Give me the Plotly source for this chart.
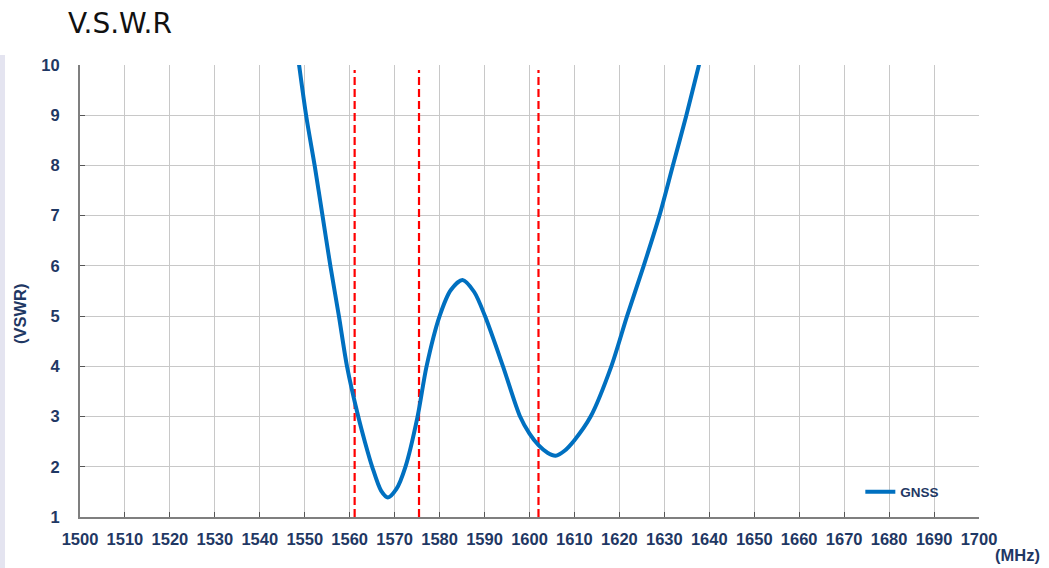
import plotly.graph_objects as go

# GNSS VSWR curve
freq_mhz = [1548.0, 1550.3, 1552.2, 1553.95, 1555.7, 1557.6, 1559.4, 1561.9, 1563.4,
            1565.0, 1567.0, 1568.5, 1570.4, 1572.4, 1575.1, 1577.1, 1580.0, 1582.5, 1585.1,
            1587.7, 1590.1, 1594.1, 1597.9, 1600.0, 1602.0, 1604.0, 1605.8, 1607.8, 1610.0,
            1613.6, 1618.2, 1621.7, 1625.4, 1628.9, 1631.9, 1634.9, 1637.7, 1638.6]
vswr = [10.5, 9.0, 8.0, 7.0, 6.0, 5.0, 4.0, 3.0, 2.49,
        2.0, 1.52, 1.39, 1.56, 2.0, 3.0, 4.0, 5.0, 5.52, 5.72,
        5.48, 5.0, 4.0, 3.0, 2.66, 2.43, 2.28, 2.22, 2.32, 2.53,
        3.0, 4.0, 5.0, 6.0, 7.0, 8.0, 9.0, 10.0, 10.3]

# Marker frequencies (dashed red lines)
marker_freqs = [1561.098, 1575.42, 1602.0]
marker_span = [1.0, 9.9]

x_ticks = list(range(1500, 1701, 10))
y_ticks = list(range(1, 11))

label_color = "#1F3864"
tick_font = dict(family="Liberation Sans", size=16.5, color=label_color, weight="bold")

fig = go.Figure()

for f in marker_freqs:
    fig.add_trace(go.Scatter(
        x=[f, f], y=marker_span, mode="lines",
        line=dict(color="#FF0000", width=2.2, dash="8px,4px"),
        showlegend=False, hoverinfo="skip"))

fig.add_trace(go.Scatter(
    x=freq_mhz, y=vswr, mode="lines", name="GNSS",
    line=dict(color="#0070C0", width=4, shape="spline", smoothing=0.8)))

fig.update_layout(
    width=1049, height=568,
    paper_bgcolor="white", plot_bgcolor="white",
    margin=dict(l=80, r=70, t=65, b=51),
    title=dict(text="V.S.W.R", x=68/1049, xref="container", xanchor="left",
               y=1-23/568, yref="container", yanchor="middle",
               font=dict(family="DejaVu Sans", size=28, color="#111111")),
    legend=dict(x=0.868, y=0.0553, xanchor="left", yanchor="middle",
                bgcolor="rgba(0,0,0,0)",
                font=dict(family="Liberation Sans", size=13.5, color=label_color, weight="bold")),
    xaxis=dict(range=[1500, 1700], tickvals=x_ticks, ticktext=[str(v) for v in x_ticks],
               showgrid=True, gridcolor="#C8C8C8", gridwidth=1,
               showline=True, linecolor="#7F7F7F", linewidth=2, mirror=False,
               ticks="inside", ticklen=5, tickcolor="#555555", tickwidth=1,
               ticklabelstandoff=6,
               tickfont=tick_font, zeroline=False, fixedrange=True),
    yaxis=dict(range=[1, 10], tickvals=y_ticks, ticktext=[str(v) for v in y_ticks],
               showgrid=True, gridcolor="#C8C8C8", gridwidth=1,
               showline=True, linecolor="#7F7F7F", linewidth=2,
               ticks="inside", ticklen=5, tickcolor="#555555", tickwidth=1,
               ticklabelstandoff=15,
               tickfont=tick_font, zeroline=False, fixedrange=True),
    annotations=[
        dict(text="(MHz)", xref="paper", yref="paper", x=1.070, y=-0.084,
             xanchor="right", yanchor="middle", showarrow=False,
             font=dict(family="Liberation Sans", size=16.5, color=label_color, weight="bold")),
        dict(text="(VSWR)", xref="paper", yref="paper", x=-60/899, y=0.449,
             xanchor="center", yanchor="middle", showarrow=False, textangle=-90,
             font=dict(family="Liberation Sans", size=16.5, color=label_color, weight="bold")),
    ],
    shapes=[dict(type="rect", xref="paper", yref="paper", x0=-80/899, x1=-75/899,
                 y0=-51/452, y1=1+10/452, fillcolor="#E4E4F0", line=dict(width=0), layer="below")],
)

fig.write_html("out.html", config={"displayModeBar": False},
               post_script="document.body.style.margin='0px';")
